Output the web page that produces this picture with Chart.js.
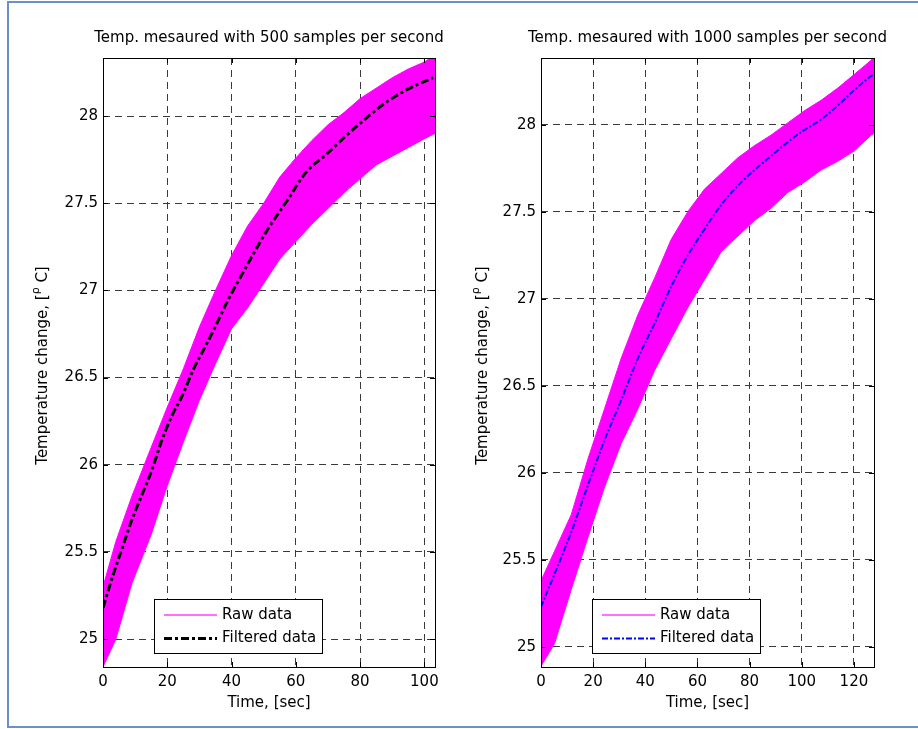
<!DOCTYPE html>
<html>
<head>
<meta charset="utf-8">
<script src="https://cdn.jsdelivr.net/npm/chart.js@4.4.0/dist/chart.umd.min.js"></script>
<style>
  body { margin: 0; background: #fff; }
  #page { position: relative; width: 918px; height: 729px; overflow: hidden; background: #fff; }
  #frame { position: absolute; left: 7px; top: 1px; width: 930px; height: 727px; border: 2px solid #6a8fca; box-sizing: border-box; }
  canvas { position: absolute; top: 0; }
</style>
</head>
<body>
<div id="page">
  <div id="frame"></div>
  <canvas id="left" width="459" height="729" style="left:0px"></canvas>
  <canvas id="right" width="459" height="729" style="left:459px"></canvas>
</div>
<script>
// ticks
var yTicks = [25, 25.5, 26, 26.5, 27, 27.5, 28];
var leftXTicks = [0, 20, 40, 60, 80, 100];
var rightXTicks = [0, 20, 40, 60, 80, 100, 120];

// 500 samples per second - filtered
var leftFiltTime = [0, 3, 6.3, 8.9, 11.5, 15.2, 18.3, 21.4, 24.5, 28.2, 31.3, 34.9, 38.5, 44.7, 50.9, 57.1, 63.3, 69.5, 75.8, 82, 88.2, 94.4, 102.7];
var leftFiltTemp = [25.18, 25.36, 25.54, 25.68, 25.80, 25.97, 26.14, 26.28, 26.39, 26.55, 26.66, 26.79, 26.93, 27.14, 27.34, 27.51, 27.68, 27.78, 27.89, 27.99, 28.08, 28.15, 28.22];
// 500 samples per second - raw data band (upper / lower edge)
var leftRawTime = [0, 4, 9, 15, 20, 25, 30, 35, 40, 45, 50, 55, 60, 65, 70, 75, 80, 85, 90, 95, 100, 103.3];
var leftRawHigh = [25.30, 25.56, 25.82, 26.10, 26.33, 26.55, 26.79, 27.00, 27.20, 27.37, 27.50, 27.65, 27.76, 27.86, 27.95, 28.02, 28.10, 28.16, 28.22, 28.27, 28.31, 28.35];
var leftRawLow = [24.84, 25.00, 25.32, 25.60, 25.88, 26.13, 26.37, 26.58, 26.78, 26.90, 27.04, 27.18, 27.28, 27.38, 27.47, 27.56, 27.64, 27.72, 27.77, 27.82, 27.87, 27.90];

// 1000 samples per second - filtered
var rightFiltTime = [0, 5.2, 11.6, 18, 24.4, 30.8, 37.2, 43.6, 49.9, 56.3, 62.7, 69.1, 75.5, 81.9, 88.2, 94.6, 101, 107.4, 113.8, 120.2, 126.6, 127.7];
var rightFiltTemp = [25.23, 25.42, 25.66, 25.93, 26.19, 26.42, 26.66, 26.86, 27.07, 27.25, 27.40, 27.54, 27.65, 27.74, 27.82, 27.90, 27.97, 28.03, 28.11, 28.20, 28.28, 28.29];
// 1000 samples per second - raw data band
var rightRawTime = [0, 5.2, 11.6, 18, 24.4, 30.8, 37.2, 43.6, 49.9, 56.3, 62.7, 69.1, 75.5, 81.9, 88.2, 94.6, 101, 107.4, 113.8, 120.2, 126.6, 127.7];
var rightRawHigh = [25.38, 25.55, 25.76, 26.08, 26.37, 26.66, 26.91, 27.12, 27.34, 27.50, 27.63, 27.72, 27.81, 27.88, 27.94, 28.01, 28.08, 28.14, 28.21, 28.29, 28.37, 28.40];
var rightRawLow = [24.89, 25.02, 25.33, 25.63, 25.92, 26.17, 26.37, 26.59, 26.77, 26.95, 27.11, 27.27, 27.36, 27.45, 27.52, 27.61, 27.67, 27.74, 27.79, 27.85, 27.94, 27.95];

var FONT = '"DejaVu Sans", "Liberation Sans", Arial, sans-serif';

function zip(xs, ys) {
    return xs.map(function (x, i) { return { x: x, y: ys[i] }; });
}

// frame, inward ticks, titles and the legend box
var decor = {
    id: 'decor',
    afterDraw: function (chart, args, o) {
        var ctx = chart.ctx, a = chart.chartArea;
        var xs = chart.scales.x, ys = chart.scales.y;
        ctx.save();
        ctx.strokeStyle = '#000';
        ctx.lineWidth = 1;
        ctx.setLineDash([]);
        ctx.beginPath();
        xs.ticks.forEach(function (t) {
            var px = Math.round(xs.getPixelForValue(t.value)) + 0.5;
            ctx.moveTo(px, a.bottom); ctx.lineTo(px, a.bottom - 5);
            ctx.moveTo(px, a.top); ctx.lineTo(px, a.top + 5);
        });
        ys.ticks.forEach(function (t) {
            var py = Math.round(ys.getPixelForValue(t.value)) + 0.5;
            ctx.moveTo(a.left, py); ctx.lineTo(a.left + 5, py);
            ctx.moveTo(a.right, py); ctx.lineTo(a.right - 5, py);
        });
        ctx.stroke();
        ctx.strokeRect(Math.round(a.left) + 0.5, Math.round(a.top) + 0.5, Math.round(a.right - a.left), Math.round(a.bottom - a.top));

        // title
        ctx.fillStyle = '#000';
        ctx.font = '15px ' + FONT;
        ctx.textAlign = 'center';
        ctx.textBaseline = 'middle';
        ctx.fillText(o.title, (a.left + a.right) / 2, 38);

        // y title with superscript
        ctx.save();
        ctx.translate(o.yTitleX, (a.top + a.bottom) / 2 + 3);
        ctx.rotate(-Math.PI / 2);
        ctx.textAlign = 'left';
        var p1 = 'Temperature change, [', p2 = '\u03C1', p3 = ' C]';
        ctx.font = '15px ' + FONT;
        var w1 = ctx.measureText(p1).width, w3 = ctx.measureText(p3).width;
        ctx.font = '11px ' + FONT;
        var w2 = ctx.measureText(p2).width;
        var x0 = -(w1 + w2 + w3) / 2;
        ctx.font = '15px ' + FONT;
        ctx.fillText(p1, x0, 0);
        ctx.fillText(p3, x0 + w1 + w2, 0);
        ctx.font = '11px ' + FONT;
        ctx.fillText(p2, x0 + w1, -7);
        ctx.restore();

        // legend
        var L = o.legend;
        ctx.fillStyle = '#fff';
        ctx.fillRect(L.x, L.y, L.w, L.h);
        ctx.strokeStyle = '#000';
        ctx.lineWidth = 1;
        ctx.strokeRect(L.x + 0.5, L.y + 0.5, L.w, L.h);
        var r1 = L.y + 16, r2 = L.y + 39.5;
        ctx.strokeStyle = '#ff40ff';
        ctx.lineWidth = 1.3;
        ctx.beginPath();
        ctx.moveTo(L.x + 10, r1); ctx.lineTo(L.x + 63, r1);
        ctx.stroke();
        ctx.strokeStyle = o.filtColor;
        ctx.lineWidth = o.filtWidth;
        ctx.setLineDash(o.filtDash);
        ctx.beginPath();
        ctx.moveTo(L.x + 10, r2); ctx.lineTo(L.x + 63, r2);
        ctx.stroke();
        ctx.setLineDash([]);
        ctx.fillStyle = '#000';
        ctx.font = '15px ' + FONT;
        ctx.textAlign = 'left';
        ctx.fillText('Raw data', L.x + 68, r1);
        ctx.fillText('Filtered data', L.x + 68, r2);
        ctx.restore();
    }
};

function makeChart(id, c) {
    return new Chart(document.getElementById(id), {
        type: 'line',
        data: {
            datasets: [{
                label: 'Filtered data',
                data: zip(c.filtT, c.filtV),
                borderColor: c.filtColor,
                borderWidth: c.filtWidth,
                borderDash: c.filtDash,
                cubicInterpolationMode: 'monotone',
                pointRadius: 0,
                fill: false
            }, {
                label: 'Raw data',
                data: zip(c.rawT, c.rawLow),
                borderColor: '#ff00ff',
                borderWidth: 1,
                pointRadius: 0,
                fill: false
            }, {
                label: 'Raw data (upper)',
                data: zip(c.rawT, c.rawHigh),
                borderColor: '#ff00ff',
                backgroundColor: '#ff00ff',
                borderWidth: 1,
                pointRadius: 0,
                fill: 1
            }]
        },
        options: {
            responsive: false,
            animation: false,
            layout: { padding: { top: 58, right: c.padRight, left: 0, bottom: 0 } },
            plugins: {
                legend: { display: false },
                tooltip: { enabled: false },
                decor: c
            },
            scales: {
                x: {
                    type: 'linear',
                    min: 0,
                    max: c.xMax,
                    afterBuildTicks: function (s) { s.ticks = c.xTicks.map(function (v) { return { value: v }; }); },
                    afterFit: function (s) { s.height = 62; },
                    ticks: { color: '#000', font: { family: FONT, size: 15 }, padding: 6, maxRotation: 0, autoSkip: false,
                        callback: function (v) { return String(v); } },
                    grid: { color: '#3a3a3a', drawTicks: false, lineWidth: 1 },
                    border: { display: false, dash: [7, 5] },
                    title: { display: true, text: 'Time, [sec]', color: '#000', font: { family: FONT, size: 15 }, padding: { top: 0, bottom: 17 } }
                },
                y: {
                    min: c.yMin,
                    max: c.yMax,
                    afterBuildTicks: function (s) { s.ticks = yTicks.map(function (v) { return { value: v }; }); },
                    afterFit: function (s) { s.width = c.yAxisW; },
                    ticks: { color: '#000', font: { family: FONT, size: 15 }, padding: 5,
                        callback: function (v) { return String(v); } },
                    grid: { color: '#3a3a3a', drawTicks: false, lineWidth: 1 },
                    border: { display: false, dash: [7, 5] }
                }
            }
        },
        plugins: [decor]
    });
}

makeChart('left', {
    title: 'Temp. mesaured with 500 samples per second',
    filtT: leftFiltTime, filtV: leftFiltTemp,
    rawT: leftRawTime, rawHigh: leftRawHigh, rawLow: leftRawLow,
    filtColor: '#000', filtWidth: 3, filtDash: [8, 3, 3, 3],
    xMax: 103.3, xTicks: leftXTicks, yMin: 24.84, yMax: 28.333,
    padRight: 24, yAxisW: 103, yTitleX: 43,
    legend: { x: 154, y: 599, w: 168, h: 54 }
});

makeChart('right', {
    title: 'Temp. mesaured with 1000 samples per second',
    filtT: rightFiltTime, filtV: rightFiltTemp,
    rawT: rightRawTime, rawHigh: rightRawHigh, rawLow: rightRawLow,
    filtColor: '#0000ff', filtWidth: 2, filtDash: [6, 2, 2, 2],
    xMax: 127.7, xTicks: rightXTicks, yMin: 24.885, yMax: 28.383,
    padRight: 44, yAxisW: 82, yTitleX: 24,
    legend: { x: 133, y: 599, w: 168, h: 54 }
});
</script>
</body>
</html>
